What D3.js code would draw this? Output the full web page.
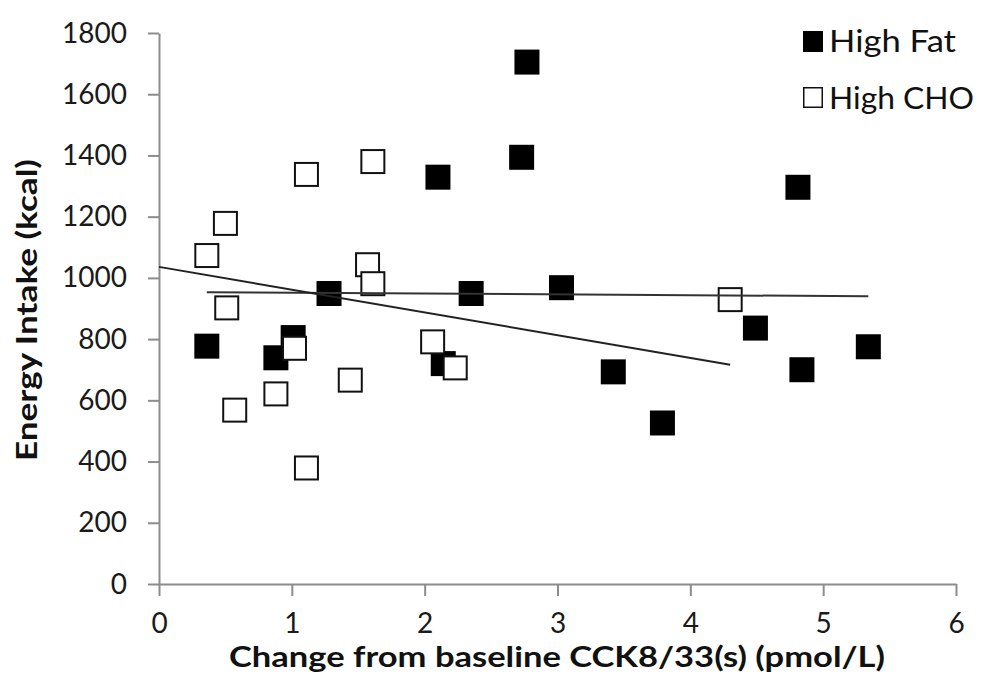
<!DOCTYPE html>
<html>
<head>
<meta charset="utf-8">
<script src="https://cdn.jsdelivr.net/npm/d3@7"></script>
<style>
  body { margin: 0; background: #fff; }
  svg { display: block; font-family: Lato, "Open Sans", sans-serif; }
  .axis path, .axis line { stroke: #8c8c8c; stroke-width: 2; }
  .axis text { fill: #1a1a1a; font-size: 28px; font-family: Lato, sans-serif; }
</style>
</head>
<body>
<svg id="chart" width="983" height="675"></svg>
<script>
// ---- data ----
const fatX = [0.36, 0.88, 1.01, 1.28, 2.10, 2.14, 2.35, 2.73, 2.77, 3.03, 3.42, 3.79, 4.49, 4.81, 4.84, 5.34];
const fatY = [777, 739, 805, 949, 1329, 720, 949, 1394, 1705, 968, 693, 526, 836, 1296, 700, 775];
const choX = [0.36, 0.50, 0.51, 0.57, 0.88, 1.02, 1.11, 1.11, 1.44, 1.57, 1.61, 1.61, 2.06, 2.23, 4.30];
const choY = [1073, 1178, 902, 568, 621, 770, 1338, 379, 666, 1043, 981, 1380, 791, 706, 929];

// trendlines (end points as drawn)
const fatTrendX = [0.36, 5.34];
const fatTrendY = [953, 940];
const choTrendX = [0, 4.30];
const choTrendY = [1036, 716];

const xTicks = [0, 1, 2, 3, 4, 5, 6];
const yTicks = [0, 200, 400, 600, 800, 1000, 1200, 1400, 1600, 1800];
const seriesNames = ['High Fat', 'High CHO'];

// ---- layout ----
const svg = d3.select('#chart');
const x = d3.scaleLinear().domain([0, 6]).range([159, 956]);
const y = d3.scaleLinear().domain([0, 1800]).range([584, 33]);

const zip = (xs, ys) => xs.map((v, i) => ({ x: v, y: ys[i] }));

// axes
svg.append('g').attr('class', 'axis')
  .attr('transform', `translate(${x(0)},0)`)
  .call(d3.axisLeft(y).tickValues(yTicks).tickFormat(d3.format('d'))
    .tickSize(11).tickPadding(21).tickSizeOuter(0))
  .selectAll('text').attr('dy', null).attr('y', 9);

svg.append('g').attr('class', 'axis')
  .attr('transform', `translate(0,${y(0)})`)
  .call(d3.axisBottom(x).tickValues(xTicks).tickFormat(d3.format('d'))
    .tickSize(12).tickSizeOuter(0))
  .selectAll('text').attr('dy', null).attr('y', 49);

// markers: filled first, open on top
const S = 25;
svg.append('g').selectAll('rect')
  .data(zip(fatX, fatY))
  .join('rect')
    .attr('x', d => x(d.x) - S / 2).attr('y', d => y(d.y) - S / 2)
    .attr('width', S).attr('height', S)
    .attr('fill', '#000');

svg.append('g').selectAll('rect')
  .data(zip(choX, choY))
  .join('rect')
    .attr('x', d => x(d.x) - (S - 2) / 2).attr('y', d => y(d.y) - (S - 2) / 2)
    .attr('width', S - 2).attr('height', S - 2)
    .attr('fill', '#fff').attr('stroke', '#111').attr('stroke-width', 2);

// trendlines drawn over the markers
const line = d3.line().x(d => x(d.x)).y(d => y(d.y));
svg.append('path').datum(zip(fatTrendX, fatTrendY))
  .attr('d', line).attr('fill', 'none').attr('stroke', '#333').attr('stroke-width', 2);
svg.append('path').datum(zip(choTrendX, choTrendY))
  .attr('d', line).attr('fill', 'none').attr('stroke', '#222').attr('stroke-width', 2);

// axis titles
svg.append('text')
  .attr('x', 557).attr('y', 667)
  .attr('text-anchor', 'middle')
  .attr('font-size', 29).attr('font-weight', 700).attr('fill', '#111')
  .attr('textLength', 656).attr('lengthAdjust', 'spacingAndGlyphs')
  .text('Change from baseline CCK8/33(s) (pmol/L)');

svg.append('text')
  .attr('transform', 'translate(37,310) rotate(-90)')
  .attr('text-anchor', 'middle')
  .attr('font-size', 29).attr('font-weight', 700).attr('fill', '#111')
  .attr('textLength', 302).attr('lengthAdjust', 'spacingAndGlyphs')
  .text('Energy Intake (kcal)');

// legend
const legend = svg.append('g').attr('transform', 'translate(803,0)');
const legY = [52, 109];
legend.append('rect').attr('x', 0).attr('y', legY[0] - 21).attr('width', 20).attr('height', 21).attr('fill', '#000');
legend.append('rect').attr('x', 0.75).attr('y', legY[1] - 21.25).attr('width', 18.5).attr('height', 19.5)
  .attr('fill', '#fff').attr('stroke', '#111').attr('stroke-width', 1.5);
legend.selectAll('text.leg').data(seriesNames).join('text')
  .attr('class', 'leg')
  .attr('x', 26).attr('y', (d, i) => legY[i])
  .attr('font-size', 30).attr('fill', '#111')
  .attr('textLength', (d, i) => [127, 145][i]).attr('lengthAdjust', 'spacingAndGlyphs')
  .text(d => d);
</script>
</body>
</html>
